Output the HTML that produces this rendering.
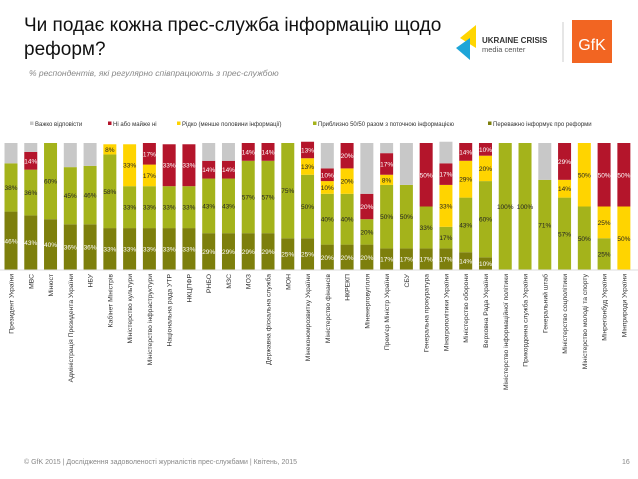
<!DOCTYPE html>
<html><head><meta charset="utf-8">
<style>
body{margin:0;width:638px;height:479px;background:#fff;font-family:"Liberation Sans",sans-serif;position:relative;overflow:hidden}
#title{position:absolute;left:24px;top:14px;font-size:19px;line-height:24px;color:#111}
#sub{position:absolute;left:29px;top:68px;font-size:8.5px;font-style:italic;color:#888}
#foot{position:absolute;left:24px;top:459px;font-size:7px;color:#888}
#page{position:absolute;left:622px;top:459px;font-size:7px;color:#888}
svg{position:absolute;left:0;top:0}
</style></head><body>
<div id="title">Чи подає кожна прес-служба інформацію щодо<br>реформ?</div>
<div id="sub">% респондентів, які регулярно співпрацюють з прес-службою</div>
<div id="foot">© GfK 2015 | Дослідження задоволеності журналістів прес-службами | Квітень, 2015</div>
<div id="page">16</div>
<svg width="638" height="479" id="svg">
 <g>
  <polygon points="460,38 476,25 476,48" fill="#ffd500"/>
  <polygon points="456,48 470,38 470,60" fill="#1ea5d8"/>
  <text x="482" y="43" font-size="8" font-weight="bold" fill="#333">UKRAINE CRISIS</text>
  <text x="482" y="52" font-size="7.5" fill="#555">media center</text>
 </g>
 <line x1="563" y1="22" x2="563" y2="62" stroke="#ccc"/>
 <g>
  <rect x="572" y="20" width="40" height="43" fill="#f26522"/>
  <text x="592" y="50" font-size="16" fill="#fff" text-anchor="middle">GfK</text>
 </g>
</svg>
<script>
const categories=["Президент України","МВС","Мінюст","Адміністрація Президента України","НБУ","Кабінет Міністрів","Міністерство культури","Міністерство інфраструктури","Національна рада УТР","НКЦПФР","РНБО","МЗС","МОЗ","Державна фіскальна служба","МОН","Мінекономрозвитку України","Міністерство фінансів","НКРЕКП","Міненерговугілля","Прем'єр Міністр України","СБУ","Генеральна прокуратура","Мінагрополітики України","Міністерство оборони","Верховна Рада України","Міністерство інформаційної політики","Прикордонна служба України","Генеральний штаб","Міністерство соцполітики","Міністерство молоді та спорту","Мінрегіонбуд України","Мінприроди України"];
const mostly=[46,43,40,36,36,33,33,33,33,33,29,29,29,29,25,25,20,20,20,17,17,17,17,14,10,0,0,0,0,0,0,0];
const half=[38,36,60,45,46,58,33,33,33,33,43,43,57,57,75,50,40,40,20,50,50,33,17,43,60,100,100,71,57,50,25,0];
const rarely=[0,0,0,0,0,8,33,17,0,0,0,0,0,0,0,13,10,20,0,8,0,0,33,29,20,0,0,0,14,50,25,50];
const never=[0,14,0,0,0,0,0,17,33,33,14,14,14,14,0,13,10,20,20,17,0,50,17,14,10,0,0,0,29,0,50,50];
const dontknow=[16,7,0,19,18,0,0,0,0,0,14,14,0,0,0,0,20,0,40,8,33,0,17,0,0,0,0,29,0,0,0,0];
const seriesNames=["Важко відповісти","Ні або майже ні","Рідко (менше половини інформації)","Приблизно 50/50 разом з поточною інформацією","Переважно інформує про реформи"];
const svg=document.getElementById('svg');const NS="http://www.w3.org/2000/svg";
const top0=143,bottom=270,x0=11,pitch=19.77,bw=13;
const y=v=>v/100*(bottom-top0);
const xc=i=>x0+i*pitch;
const series=[{d:mostly,c:"#7d7f0c",t:"#fff",n:"mostly"},{d:half,c:"#a4b31b",t:"#222",n:"half"},{d:rarely,c:"#ffd400",t:"#222",n:"rarely"},{d:never,c:"#b4152b",t:"#fff",n:"never"},{d:dontknow,c:"#c8c8c8",t:null,n:"dont-know"}];
function mk(tag,attrs){const e=document.createElementNS(NS,tag);for(const k in attrs)e.setAttribute(k,attrs[k]);return e;}
categories.forEach((cat,i)=>{
  let acc=0;
  series.forEach(s=>{
    const v=s.d[i];if(!v)return;
    const h=y(v),yt=bottom-y(acc)-h;
    const r=mk('rect',{x:xc(i)-bw/2,y:yt,width:bw,height:h,fill:s.c});
    
    
    svg.appendChild(r);
    if(s.t){const t=mk('text',{x:xc(i),y:yt+h/2+2.5,'font-size':6.5,'text-anchor':'middle',fill:s.t});
      t.textContent=v+'%';
      
      
      svg.appendChild(t);}
    acc+=v;
  });
  const l=mk('text',{transform:`translate(${xc(i)+2.5},274) rotate(-90)`,'font-size':6.8,'text-anchor':'end',fill:'#333'});
  l.textContent=cat;
  
  
  svg.appendChild(l);
});
const ax=mk('line',{x1:0,x2:638,y1:bottom,y2:bottom,stroke:'#ddd'});


svg.appendChild(ax);
const legX=[30,108,177,313,488];const legC=["#c8c8c8","#b4152b","#ffd400","#a4b31b","#7d7f0c"];
seriesNames.forEach((n,k)=>{
  const r=mk('rect',{x:legX[k],y:121.5,width:3.5,height:3.5,fill:legC[k]});
  
  
  svg.appendChild(r);
  const t=mk('text',{x:legX[k]+5,y:126,'font-size':6,fill:'#333'});
  t.textContent=n;
  
  
  svg.appendChild(t);
});
</script>
</body></html>
